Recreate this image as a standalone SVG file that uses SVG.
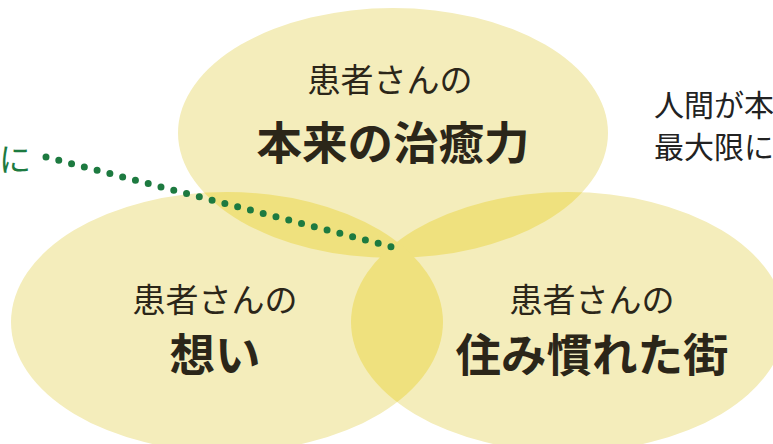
<svg xmlns="http://www.w3.org/2000/svg" width="773" height="444" viewBox="0 0 773 444">
<style>
.blob{fill:#f4edbb}
.lens{fill:#efe17e}
.t{font-family:"Noto Sans CJK JP","Noto Sans",sans-serif;fill:#2b2619;text-anchor:middle;dominant-baseline:central}
.sub{font-size:33px;font-weight:400}
.main{font-size:45.5px;font-weight:700}
.side{font-family:"Noto Sans CJK JP","Noto Sans",sans-serif;fill:#222;font-size:30px;dominant-baseline:central}
</style>
<defs>
<clipPath id="cT"><ellipse cx="393" cy="133" rx="215" ry="125"/></clipPath>
<clipPath id="cL"><ellipse cx="227" cy="322" rx="216" ry="130"/></clipPath>
<clipPath id="cR"><ellipse cx="568" cy="322" rx="217" ry="130"/></clipPath>
</defs>
<rect width="773" height="444" fill="#ffffff"/>
<g id="node-top"><ellipse class="blob" cx="393" cy="133" rx="215" ry="125"/></g>
<g id="node-left"><ellipse class="blob" cx="227" cy="322" rx="216" ry="130"/></g>
<g id="node-right"><ellipse class="blob" cx="568" cy="322" rx="217" ry="130"/></g>
<g id="overlaps">
<g clip-path="url(#cT)"><ellipse class="lens" cx="227" cy="322" rx="216" ry="130"/><ellipse class="lens" cx="568" cy="322" rx="217" ry="130"/></g>
<g clip-path="url(#cL)"><ellipse class="lens" cx="568" cy="322" rx="217" ry="130"/></g>
</g>
<g id="labels">
<text class="t sub" x="390" y="78">患者さんの</text>
<text class="t main" x="393" y="140">本来の治癒力</text>
<text class="t sub" x="215" y="298">患者さんの</text>
<text class="t main" x="215" y="352">想い</text>
<text class="t sub" x="592" y="298">患者さんの</text>
<text class="t main" x="592" y="352">住み慣れた街</text>
</g>
<g id="connectors">
<line x1="46" y1="157" x2="400" y2="249" stroke="#1d7a40" stroke-width="7" stroke-linecap="round" stroke-dasharray="0 13.2"/>
</g>
<g id="side-text">
<text x="-1" y="157" font-family="Noto Sans CJK JP, sans-serif" font-size="32" fill="#1d7a40" dominant-baseline="central">に</text>
<text class="side" x="654" y="103">人間が本</text>
<text class="side" x="654" y="145">最大限に</text>
</g>
</svg>
